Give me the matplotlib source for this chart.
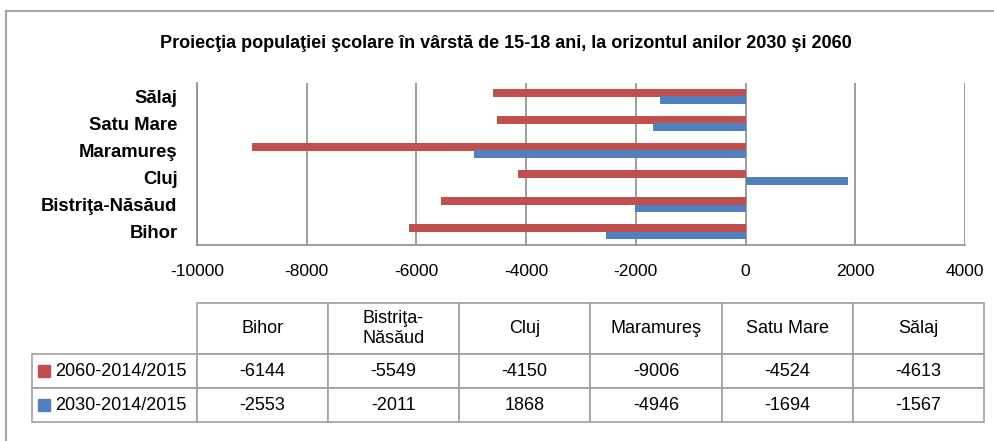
import matplotlib
matplotlib.use("Agg")
import matplotlib.pyplot as plt
from matplotlib.patches import Rectangle

# date
judete = ["Bihor", "Bistriţa-Năsăud", "Cluj", "Maramureş", "Satu Mare", "Sălaj"]
antet_tabel = ["Bihor", "Bistriţa-\nNăsăud", "Cluj", "Maramureş", "Satu Mare", "Sălaj"]
serie_2060 = [-6144, -5549, -4150, -9006, -4524, -4613]
serie_2030 = [-2553, -2011, 1868, -4946, -1694, -1567]
nume_2060 = "2060-2014/2015"
nume_2030 = "2030-2014/2015"
x_ticks = [-10000, -8000, -6000, -4000, -2000, 0, 2000, 4000]

ROSU = "#C0504D"
ALBASTRU = "#4F81BD"
GRI = "#8C8C8C"

plt.rcParams["font.family"] = ["Liberation Sans", "DejaVu Sans"]

W, H = 995, 441
fig = plt.figure(figsize=(W / 100, H / 100), dpi=100)

# chenarul exterior
fig.patches.append(Rectangle((6.5 / W, -0.1), 1.2, (H - 11) / H + 0.1,
                             transform=fig.transFigure, fill=False,
                             edgecolor="#A6A6A6", linewidth=1.5))

fig.text(506 / W, 1 - 44 / H,
         "Proiecţia populaţiei şcolare în vârstă de 15-18 ani, la orizontul anilor 2030 şi 2060",
         ha="center", va="center", fontsize=13, fontweight="bold")

ax_l, ax_r, ax_t, ax_b = 197, 965, 83, 245
ax = fig.add_axes([ax_l / W, 1 - ax_b / H, (ax_r - ax_l) / W, (ax_b - ax_t) / H])

y = list(range(len(judete)))
h = 0.29
ax.barh([v + h / 2 for v in y], serie_2060, height=h, color=ROSU, zorder=3)
ax.barh([v - h / 2 for v in y], serie_2030, height=h, color=ALBASTRU, zorder=3)

ax.set_xlim(-10000, 4000)
ax.set_ylim(-0.5, 5.5)
ax.set_xticks(x_ticks)
ax.set_xticklabels([str(t) for t in x_ticks], fontsize=12.5)
ax.set_yticks(y)
ax.set_yticklabels(judete, fontsize=13.3, fontweight="bold")
ax.tick_params(axis="x", length=0, pad=14)
ax.tick_params(axis="y", length=0, pad=14)
ax.grid(axis="x", color=GRI, linewidth=1.2, zorder=0)
for s in ["top", "right"]:
    ax.spines[s].set_visible(False)
for s in ["left", "bottom"]:
    ax.spines[s].set_color(GRI)
    ax.spines[s].set_linewidth(1.2)

# tabelul de date
rows = [[""] + antet_tabel,
        [nume_2060] + [str(v) for v in serie_2060],
        [nume_2030] + [str(v) for v in serie_2030]]
t_l, t_r, t_t, t_b = 32, 984, 303, 422
aw, ah = ax_r - ax_l, ax_b - ax_t
tbl = ax.table(cellText=rows, cellLoc="center",
               colWidths=[165] + [131.5] * 6,
               bbox=[(t_l - ax_l) / aw, (ax_b - t_b) / ah,
                     (t_r - t_l) / aw, (t_b - t_t) / ah])
tbl.auto_set_font_size(False)
tbl.set_fontsize(13)
row_h = [51, 34, 34]
for (r, c), cell in tbl.get_celld().items():
    cell.set_height(row_h[r])
    cell.set_edgecolor("#A0A0A0")
    cell.set_linewidth(1.2)
tbl[(0, 0)].visible_edges = "open"
for r in (1, 2):
    cell = tbl[(r, 0)]
    cell._loc = "left"
    cell.PAD = 23 / 165
    cell.get_text().set_ha("left")

# patratele de legenda
for r, col in ((1, ROSU), (2, ALBASTRU)):
    top = t_t + sum(row_h[:r])
    cy = top + row_h[r] / 2
    ax.add_patch(Rectangle(((38 - ax_l) / aw, (ax_b - cy - 6) / ah), 12 / aw, 12 / ah,
                           transform=ax.transAxes, color=col, clip_on=False))

fig.savefig("out.png", dpi=100)
